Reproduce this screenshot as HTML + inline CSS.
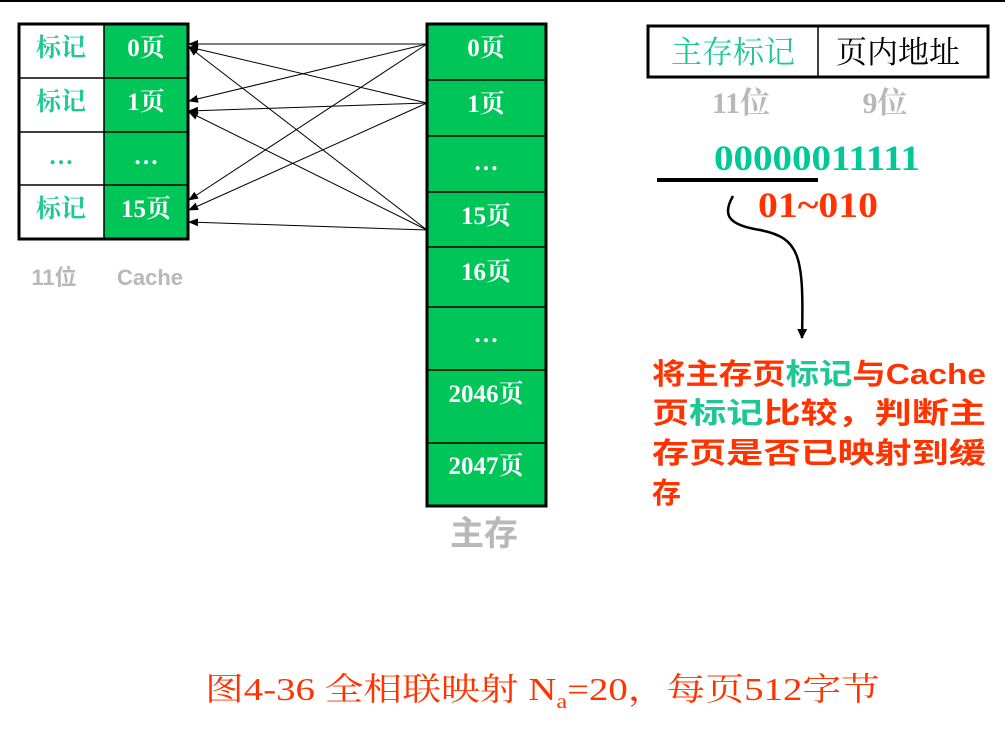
<!DOCTYPE html>
<html><head><meta charset="utf-8"><style>
html,body{margin:0;padding:0;background:#fff;width:1005px;height:739px;overflow:hidden}
svg text{font-family:"Liberation Serif","Noto Serif CJK SC",serif}
.s{font-family:"Liberation Sans","Noto Sans CJK SC",sans-serif}
</style></head><body>
<svg width="1005" height="739" viewBox="0 0 1005 739" xmlns="http://www.w3.org/2000/svg">
<defs><marker id="ah" markerWidth="10" markerHeight="8" refX="9" refY="4" orient="auto" markerUnits="userSpaceOnUse"><path d="M0,0 L10,4 L0,8 z" fill="#000"/></marker>
<marker id="ah2" markerWidth="10" markerHeight="10" refX="9" refY="5" orient="auto" markerUnits="userSpaceOnUse"><path d="M0,0 L10,5 L0,10 z" fill="#000"/></marker></defs>
<line x1="0" y1="1" x2="1005" y2="1" stroke="#000" stroke-width="2"/>
<rect x="104" y="24" width="84" height="215" fill="#00c65a"/>
<g stroke="#000" stroke-width="1.5"><line x1="19" y1="78" x2="188" y2="78"/><line x1="19" y1="132" x2="188" y2="132"/><line x1="19" y1="185" x2="188" y2="185"/><line x1="104" y1="24" x2="104" y2="239"/></g>
<rect x="19" y="24" width="169" height="215" fill="none" stroke="#000" stroke-width="3"/>
<g font-size="25" font-weight="bold" text-anchor="middle">
<g fill="#1ec894"><text x="61" y="56">标记</text><text x="61" y="110">标记</text><text x="61" y="164">…</text><text x="61" y="217">标记</text></g>
<g fill="#fff"><text x="146" y="56">0页</text><text x="146" y="110">1页</text><text x="146" y="164">…</text><text x="146" y="217">15页</text></g>
</g>
<text class="s" x="54" y="285" font-size="22" font-weight="bold" fill="#b8b8b8" text-anchor="middle">11位</text>
<text class="s" x="150" y="285" font-size="22" font-weight="bold" fill="#b8b8b8" text-anchor="middle">Cache</text>
<rect x="427" y="24" width="119" height="482" fill="#00c65a" stroke="#000" stroke-width="3"/>
<g stroke="#000" stroke-width="1.5"><line x1="427" y1="80" x2="546" y2="80"/><line x1="427" y1="136" x2="546" y2="136"/><line x1="427" y1="192" x2="546" y2="192"/><line x1="427" y1="247" x2="546" y2="247"/><line x1="427" y1="307" x2="546" y2="307"/><line x1="427" y1="370" x2="546" y2="370"/><line x1="427" y1="443" x2="546" y2="443"/></g>
<g font-size="25" font-weight="bold" text-anchor="middle" fill="#fff">
<text x="486" y="56">0页</text><text x="486" y="112">1页</text><text x="486" y="170">…</text><text x="486" y="224">15页</text><text x="486" y="280">16页</text><text x="486" y="342">…</text><text x="486" y="402">2046页</text><text x="486" y="474">2047页</text></g>
<text class="s" x="484" y="545" font-size="34" font-weight="bold" fill="#b8b8b8" text-anchor="middle">主存</text>
<g stroke="#000" stroke-width="1" marker-end="url(#ah)">
<line x1="427" y1="44" x2="189" y2="44"/><line x1="427" y1="44" x2="189" y2="101"/><line x1="427" y1="44" x2="189" y2="200"/>
<line x1="427" y1="103" x2="189" y2="47"/><line x1="427" y1="103" x2="189" y2="111"/><line x1="427" y1="103" x2="189" y2="210"/>
<line x1="427" y1="230" x2="189" y2="47"/><line x1="427" y1="230" x2="189" y2="112"/><line x1="427" y1="230" x2="189" y2="222"/>
</g>
<rect x="648" y="26" width="340" height="51" fill="none" stroke="#000" stroke-width="3"/>
<line x1="818" y1="26" x2="818" y2="77" stroke="#000" stroke-width="1.5"/>
<text x="733" y="63" font-size="31" fill="#1ec894" text-anchor="middle">主存标记</text>
<text x="898" y="63" font-size="31" fill="#000" text-anchor="middle">页内地址</text>
<text x="741" y="113" font-size="30" font-weight="bold" fill="#b8b8b8" text-anchor="middle">11位</text>
<text x="885" y="113" font-size="30" font-weight="bold" fill="#b8b8b8" text-anchor="middle">9位</text>
<text x="817" y="170" font-size="36" font-weight="bold" fill="#00c896" text-anchor="middle" textLength="206" lengthAdjust="spacingAndGlyphs">00000011111</text>
<line x1="657" y1="180" x2="818" y2="180" stroke="#000" stroke-width="4"/>
<text x="818" y="217" font-size="36" font-weight="bold" fill="#ff3300" text-anchor="middle" textLength="120" lengthAdjust="spacingAndGlyphs">01~010</text>
<path d="M733,196 C722,215 728,225 760,230 C800,238 804,255 802,338" fill="none" stroke="#000" stroke-width="2.5" marker-end="url(#ah2)"/>
<g class="s" font-size="29" font-weight="bold" fill="#ff3300">
<text x="652" y="384" class="s" textLength="334" lengthAdjust="spacingAndGlyphs">将主存页<tspan fill="#1ec894">标记</tspan>与Cache</text>
<text x="652" y="423" class="s" textLength="334" lengthAdjust="spacingAndGlyphs">页<tspan fill="#1ec894">标记</tspan>比较，判断主</text>
<text x="652" y="463" class="s" textLength="334" lengthAdjust="spacingAndGlyphs">存页是否已映射到缓</text>
<text x="652" y="503" class="s">存</text>
</g>
<text x="205" y="700" font-size="32" fill="#ff3300" textLength="675" lengthAdjust="spacingAndGlyphs">图4-36 全相联映射 N<tspan font-size="20" dy="8">a</tspan><tspan dy="-8">=20，每页512字节</tspan></text>
</svg>
</body></html>
